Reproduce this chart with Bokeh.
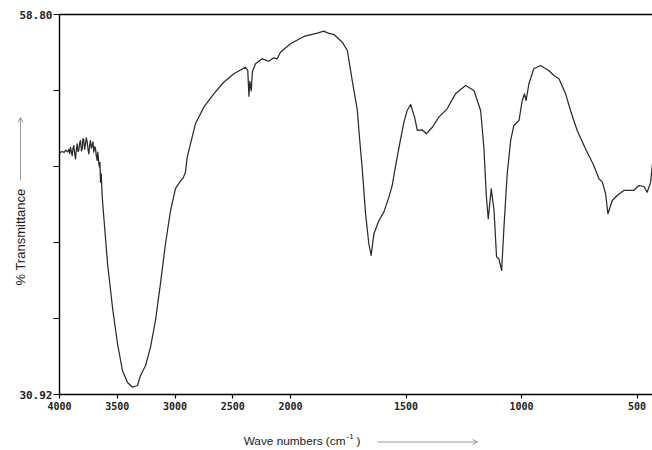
import math
from bokeh.plotting import figure
from bokeh.models import (FixedTicker, CustomJSTickFormatter, LinearAxis, Label,
                          Arrow, OpenHead, Range1d, ColumnDataSource)
from bokeh.embed import file_html
from bokeh.resources import INLINE

# ---- data (wavenumber cm^-1, % transmittance) ----
wavenumber = [4000, 3990, 3975, 3960, 3945, 3930, 3919, 3912, 3905, 3897, 3890, 3883,
              3876, 3868, 3861, 3854, 3847, 3840, 3833, 3825, 3818, 3810, 3803, 3797,
              3790, 3782, 3775, 3768, 3760, 3753, 3746, 3739, 3732, 3724, 3717, 3710,
              3703, 3695, 3688, 3681, 3674, 3669, 3665, 3660, 3654, 3650, 3645, 3639,
              3634, 3630, 3619, 3584, 3541, 3498, 3455, 3411, 3368,
              3325, 3299, 3255, 3212, 3169, 3126, 3082, 3039, 2996, 2952, 2930, 2910,
              2895, 2866, 2823, 2751, 2664, 2578, 2491, 2390, 2370, 2360, 2352, 2340,
              2330, 2303, 2245, 2188, 2145, 2116, 2087, 2000, 1942, 1884, 1856, 1840,
              1812, 1776, 1754, 1733, 1711, 1700, 1690, 1675, 1661, 1651, 1639, 1617,
              1596, 1574, 1560, 1545, 1526, 1509, 1495, 1480, 1463, 1451, 1430, 1412,
              1386, 1358, 1322, 1286, 1242, 1206, 1177, 1163, 1152, 1144, 1131, 1119,
              1108, 1098, 1086, 1076, 1062, 1047, 1033, 1011, 997, 987, 980, 968,
              947, 918, 882, 860, 838, 809, 788, 759, 723, 687, 665, 650,
              636, 626, 607, 586, 557, 514, 492, 470, 456, 441, 433]
transmittance = [48.62, 48.70, 48.75, 48.68, 48.85, 48.72, 48.90, 48.60, 49.06, 48.70, 48.45, 49.00,
                 49.19, 48.55, 48.21, 48.90, 49.31, 48.75, 48.82, 49.40, 49.55, 48.80, 48.95, 49.70,
                 49.60, 48.90, 49.31, 49.75, 49.45, 48.90, 48.58, 49.20, 49.55, 49.00, 49.19, 49.45,
                 48.70, 49.10, 48.95, 48.40, 48.09, 48.70, 48.45, 47.90, 47.60, 47.95, 46.50, 47.13,
                 46.20, 45.40, 44.20, 40.53, 37.30, 34.66, 32.68, 31.80, 31.45,
                 31.58, 32.30, 33.05, 34.40, 36.35, 39.06, 42.00, 44.40, 46.03, 46.60, 46.80, 47.20,
                 48.30, 49.31, 50.78, 52.00, 52.98, 53.83, 54.45, 54.93, 54.70, 52.80, 53.90, 53.20,
                 54.60, 55.18, 55.55, 55.37, 55.62, 55.55, 56.03, 56.65, 57.19, 57.43, 57.58, 57.45,
                 57.33, 56.77, 56.16, 53.96, 51.80, 49.50, 47.60, 44.18, 41.98, 41.12, 42.71, 43.69,
                 44.30, 45.40, 46.25, 47.72, 49.43, 50.90, 51.76, 52.20, 51.27, 50.29, 50.34, 50.05,
                 50.53, 51.27, 51.88, 52.98, 53.59, 53.22, 51.76, 49.06, 45.40, 43.81, 46.01, 44.42,
                 41.00, 40.88, 40.02, 43.20, 47.11, 49.56, 50.66, 51.02, 52.49, 52.98, 52.49, 53.72,
                 54.82, 55.06, 54.69, 54.32, 54.08, 52.98, 51.76, 50.29, 48.95, 47.72, 46.75, 46.50,
                 45.65, 44.18, 45.15, 45.52, 45.89, 45.89, 46.25, 46.18, 45.76, 46.50, 47.87]
x_ticks = [4000, 3500, 3000, 2500, 2000, 1500, 1000, 500]
y_min, y_max = 30.92, 58.80
x_start, x_end = 4000, 433


def to_u(w):
    # IR chart convention: scale doubles below 2000 cm^-1
    return 4000 - w if w >= 2000 else 2000 + 2 * (2000 - w)


# ---- layout (pixels) ----
W, H = 652, 450
plot_left, plot_right, plot_top, plot_bottom = 59, 652, 14, 394
u0, u1 = to_u(x_start), to_u(x_end)
ppu = (plot_right - plot_left) / (u1 - u0)
ppy = (plot_bottom - plot_top) / (y_max - y_min)
xr = Range1d(u0 - plot_left / ppu, u1 + (W - plot_right) / ppu)
yr = Range1d(y_min - (H - plot_bottom) / ppy, y_max + plot_top / ppy)

src = ColumnDataSource(dict(u=[to_u(w) for w in wavenumber], t=transmittance))

p = figure(width=W, height=H, output_backend="svg", toolbar_location=None,
           x_range=xr, y_range=yr, x_axis_location=None, y_axis_location=None,
           min_border=0, min_border_left=0, min_border_right=0,
           min_border_top=0, min_border_bottom=0)
p.outline_line_color = None
p.grid.visible = False
p.background_fill_color = "white"
p.border_fill_color = "white"

p.line("u", "t", source=src, line_color="#2b2b2b", line_width=1.25,
       line_join="round")

mono = "DejaVu Sans Mono"

# x axis
xa = LinearAxis(fixed_location=y_min, bounds=(u0, u1))
xa.ticker = FixedTicker(ticks=[to_u(w) for w in x_ticks], minor_ticks=[])
xa.formatter = CustomJSTickFormatter(code="""
    const w = tick <= 2000 ? 4000 - tick : 2000 - (tick - 2000) / 2;
    return Math.round(w).toString();
""")
xa.axis_line_color = "black"
xa.axis_line_width = 1.4
xa.major_tick_line_color = "black"
xa.major_tick_line_width = 1.2
xa.major_tick_out = 4
xa.major_tick_in = 0
xa.major_label_standoff = 3
xa.major_label_text_font = mono
xa.major_label_text_font_style = "bold"
xa.major_label_text_font_size = "10px"
xa.major_label_text_color = "#222"
p.add_layout(xa, "below")

# y axis
step = (y_max - y_min) / 5
ya = LinearAxis(fixed_location=u0, bounds=(y_min, y_max))
ya.ticker = FixedTicker(ticks=[y_min + k * step for k in range(6)], minor_ticks=[])
ya.formatter = CustomJSTickFormatter(code="""
    return (index == 0 || index == ticks.length - 1) ? tick.toFixed(2) : "";
""")
ya.axis_line_color = "black"
ya.axis_line_width = 1.4
ya.major_tick_line_color = "black"
ya.major_tick_line_width = 1.2
ya.major_tick_out = 6
ya.major_tick_in = 0
ya.major_label_standoff = 1
ya.major_label_text_font = mono
ya.major_label_text_font_style = "bold"
ya.major_label_text_font_size = "11px"
ya.major_label_text_color = "#222"
p.add_layout(ya, "left")

# top border line
top = LinearAxis(fixed_location=y_max, bounds=(u0, u1 + (W - plot_right) / ppu),
                 axis_line_color="black", axis_line_width=1.4,
                 major_tick_line_color=None, minor_tick_line_color=None,
                 major_label_text_font_size="0px", major_label_standoff=0,
                 major_tick_out=0, major_tick_in=0, minor_tick_out=0)
top.ticker = FixedTicker(ticks=[])
p.add_layout(top, "above")

# axis titles (screen units: frame == whole canvas, y measured from bottom)
sans = "Liberation Sans"
p.add_layout(Label(x=345, y=H - 440, x_units="screen", y_units="screen",
                   text="Wave numbers (cm", text_font=sans, text_font_size="11.8px",
                   text_baseline="middle", text_align="right", text_color="#222"))
p.add_layout(Label(x=346, y=H - 436, x_units="screen", y_units="screen",
                   text="-1", text_font=sans, text_font_size="8px",
                   text_baseline="middle", text_align="left", text_color="#222"))
p.add_layout(Label(x=356, y=H - 440, x_units="screen", y_units="screen",
                   text=")", text_font=sans, text_font_size="11.8px",
                   text_baseline="middle", text_align="left", text_color="#222"))
p.add_layout(Arrow(x_start=377, y_start=H - 441.5, x_end=477, y_end=H - 441.5,
                   start_units="screen", end_units="screen",
                   line_color="#999999", line_width=1,
                   end=OpenHead(size=5, line_color="#999999", line_width=1)))

p.add_layout(Label(x=20, y=H - 236.5, x_units="screen", y_units="screen",
                   text="% Transmittance", text_font=sans, text_font_size="13px",
                   text_baseline="middle", text_align="center", angle=math.pi / 2,
                   text_color="#222"))
p.add_layout(Arrow(x_start=20, y_start=H - 180, x_end=20, y_end=H - 117,
                   start_units="screen", end_units="screen",
                   line_color="#999999", line_width=1,
                   end=OpenHead(size=5, line_color="#999999", line_width=1)))

open("out.html", "w").write(file_html(p, INLINE))
